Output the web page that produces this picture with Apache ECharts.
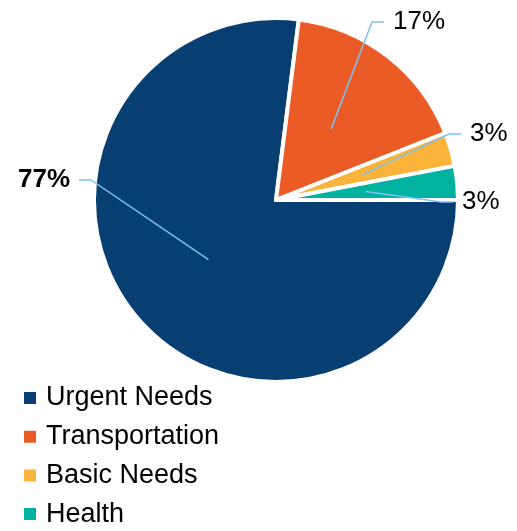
<!DOCTYPE html>
<html><head><meta charset="utf-8">
<script src="https://cdn.jsdelivr.net/npm/echarts@6/dist/echarts.min.js"></script>
<style>html,body{margin:0;padding:0;background:#fff}#c{width:517px;height:531px}</style>
</head><body><div id="c"></div>
<script>
const categories = ['Urgent Needs', 'Transportation', 'Basic Needs', 'Health'];
const values = [77, 17, 3, 3];

const colors = ['#083F72', '#EB5B25', '#FBB33A', '#00B3A1'];
const FONT = '"Liberation Sans Narrow","Arial Narrow","Liberation Sans",Arial,sans-serif';
const labelAnchors = [
  { x: 70, y: 180, align: 'right' },
  { x: 393, y: 22, align: 'left' },
  { x: 470, y: 134, align: 'left' },
  { x: 462, y: 202, align: 'left' }
];

const chart = echarts.init(document.getElementById('c'), null, { renderer: 'canvas' });
const mainData = categories.map((n, i) => ({ name: n, value: values[i] }));
const labelData = categories.map((n, i) => ({
  name: n, value: values[i],
  label: { fontWeight: i === 0 ? 'bold' : 'normal' }
}));

chart.setOption({
  animation: false,
  color: colors,
  legend: {
    orient: 'vertical',
    left: 22,
    top: 383,
    height: 300,
    padding: 0,
    itemWidth: 14,
    itemHeight: 14,
    itemGap: 8.7,
    icon: 'rect',
    selectedMode: false,
    data: categories.map((n, i) => ({ name: n, itemStyle: { color: colors[i] } })),
    textStyle: { fontSize: 27, lineHeight: 30, fontFamily: FONT, color: '#000', padding: [0, 0, 0, 4] }
  },
  series: [
    {
      type: 'pie',
      z: 2,
      center: [276, 200],
      radius: 182,
      startAngle: 0,
      clockwise: true,
      data: mainData,
      label: { show: false },
      labelLine: { show: false },
      itemStyle: { borderColor: '#fff', borderWidth: 4 },
      emphasis: { disabled: true }
    },
    {
      type: 'pie',
      z: 5,
      center: [276, 200],
      radius: 90,
      startAngle: 0,
      clockwise: true,
      silent: true,
      avoidLabelOverlap: false,
      data: labelData,
      itemStyle: { color: 'transparent', borderWidth: 0 },
      emphasis: { disabled: true },
      label: {
        show: true, position: 'outside', formatter: '{d}%',
        fontSize: 26, fontFamily: FONT, color: '#000'
      },
      labelLine: { show: true, length: 10, length2: 10, lineStyle: { color: '#7DC1F2', width: 1.5 } },
      labelLayout: function (p) {
        const a = labelAnchors[p.dataIndex];
        const s = a.align === 'left' ? -1 : 1;
        const start = p.labelLinePoints ? p.labelLinePoints[0] : [a.x, a.y];
        return {
          x: a.x, y: a.y, align: a.align, verticalAlign: 'middle',
          labelLinePoints: [start, [a.x + s * 21, a.y], [a.x + s * 9, a.y]]
        };
      }
    }
  ]
});
</script>
</body></html>
